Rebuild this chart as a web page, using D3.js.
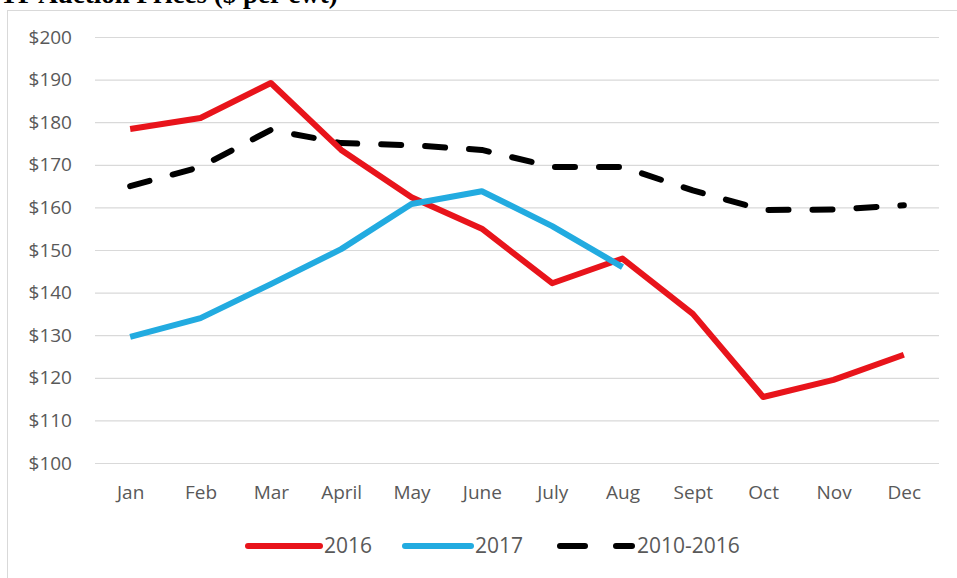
<!DOCTYPE html>
<html>
<head>
<meta charset="utf-8">
<script src="https://cdn.jsdelivr.net/npm/d3@7"></script>
<style>
  html, body { margin: 0; padding: 0; background: #fff; overflow: hidden; }
  svg { display: block; }
</style>
</head>
<body>
<svg id="chart" width="957" height="578"></svg>
<script>
const months = ["Jan", "Feb", "Mar", "April", "May", "June", "July", "Aug", "Sept", "Oct", "Nov", "Dec"]
const yTicks = [100, 110, 120, 130, 140, 150, 160, 170, 180, 190, 200]

const prices2016 = [178.4, 181.0, 189.2, 173.5, 162.4, 155.0, 142.2, 148.0, 135.0, 115.5, 119.5, 125.4]
const prices2017 = [129.6, 134.0, 142.0, 150.2, 160.8, 163.8, 155.6, 146.0]
const avg2010_2016 = [165.0, 169.5, 178.2, 175.1, 174.6, 173.5, 169.5, 169.5, 164.0, 159.4, 159.5, 160.5]

const series = [
  { name: "2016",      values: prices2016,   color: "#e8141b", dash: null },
  { name: "2017",      values: prices2017,   color: "#22abe0", dash: null },
  { name: "2010-2016", values: avg2010_2016, color: "#000000", dash: "20,24" }
]

const svg = d3.select("#chart")
const plotL = 95, plotR = 939, plotT = 37, plotB = 463
const font = "'Open Sans', sans-serif"

// Title, cut off at the top like the source image
svg.append("text")
  .attr("x", 0).attr("y", 3)
  .attr("font-family", "'Liberation Serif', serif")
  .attr("font-weight", "bold")
  .attr("font-size", 27)
  .attr("fill", "#000")
  .text("TP Auction Prices ($ per cwt)")

// Chart frame
svg.append("rect")
  .attr("x", 7.5).attr("y", 10.5)
  .attr("width", 960).attr("height", 580)
  .attr("fill", "none").attr("stroke", "#d9d9d9")

const x = d3.scalePoint().domain(months).range([plotL, plotR]).padding(0.5)
const y = d3.scaleLinear().domain([100, 200]).range([plotB, plotT])

// ── Y axis + gridlines ─────────────────────────────
const yAxis = svg.append("g")
  .attr("transform", `translate(${plotL},0)`)
  .call(d3.axisLeft(y).tickValues(yTicks).tickSize(-(plotR - plotL)).tickPadding(23)
    .tickFormat(d => "$" + d))
yAxis.select(".domain").remove()
yAxis.selectAll(".tick line").attr("stroke", "#d9d9d9").attr("stroke-width", 1.2)
yAxis.selectAll(".tick text")
  .attr("font-family", font).attr("font-size", 19).attr("fill", "#595959")

// ── X axis labels ──────────────────────────────────
const xAxis = svg.append("g")
  .attr("transform", `translate(0,${plotB})`)
  .call(d3.axisBottom(x).tickSize(0).tickPadding(23))
xAxis.select(".domain").remove()
xAxis.selectAll(".tick text")
  .attr("font-family", font).attr("font-size", 19).attr("fill", "#595959")

// ── Lines ──────────────────────────────────────────
const line = d3.line()
  .x((d, i) => x(months[i]))
  .y(d => y(d))

svg.append("g").selectAll("path")
  .data([series[2], series[0], series[1]])
  .join("path")
  .attr("d", s => line(s.values))
  .attr("fill", "none")
  .attr("stroke", s => s.color)
  .attr("stroke-width", 6)
  .attr("stroke-linejoin", "round")
  .attr("stroke-linecap", s => s.dash ? "round" : "butt")
  .attr("stroke-dasharray", s => s.dash)

// ── Legend ─────────────────────────────────────────
const legendItems = [
  { s: series[0], x1: 248, x2: 320, tx: 324 },
  { s: series[1], x1: 405, x2: 471, tx: 475 },
  { s: series[2], x1: 560, x2: 632, tx: 637 }
]
const lg = svg.append("g").attr("transform", "translate(0,546)")
const item = lg.selectAll("g").data(legendItems).join("g")
item.append("line")
  .attr("x1", d => d.x1).attr("x2", d => d.x2)
  .attr("y1", 0).attr("y2", 0)
  .attr("stroke", d => d.s.color)
  .attr("stroke-width", 6)
  .attr("stroke-linecap", "round")
  .attr("stroke-dasharray", d => d.s.dash ? "25,31" : null)
item.append("text")
  .attr("x", d => d.tx).attr("y", 0).attr("dy", "0.35em")
  .attr("font-family", font).attr("font-size", 21).attr("fill", "#595959")
  .text(d => d.s.name)
</script>
</body>
</html>
